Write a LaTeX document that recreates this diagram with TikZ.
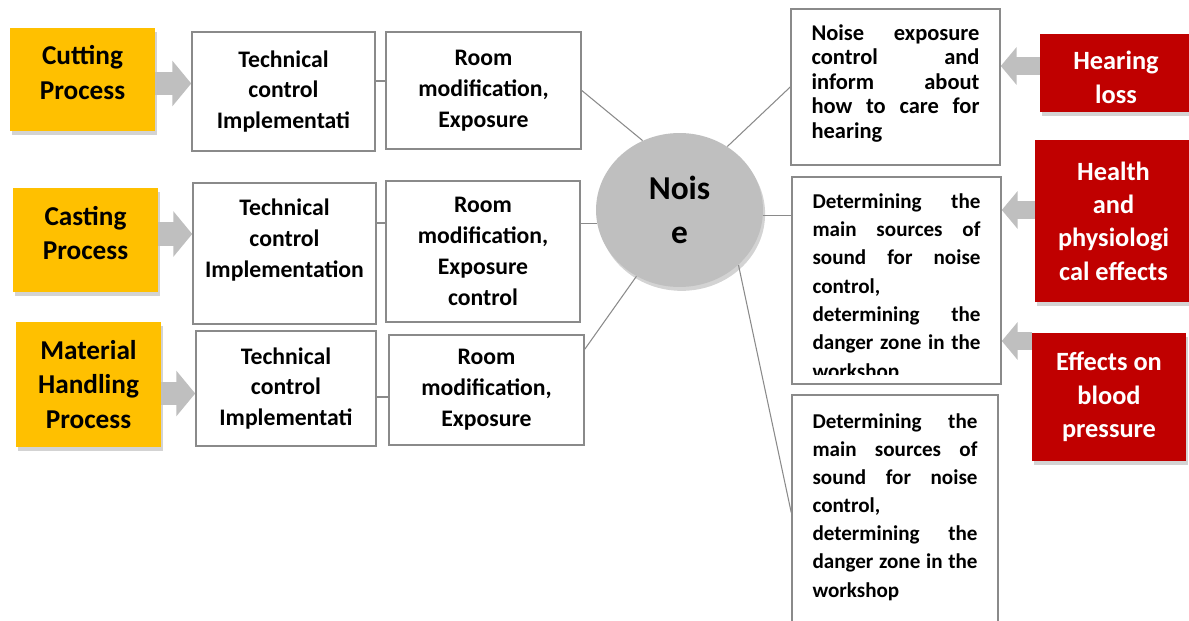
\documentclass[tikz,border=0pt]{standalone}
\usepackage{fontspec}
\setmainfont{Carlito}
\usetikzlibrary{shapes.geometric,arrows.meta,shadows,calc}
\definecolor{procyellow}{HTML}{FFC000}
\definecolor{effectred}{HTML}{C00000}
\definecolor{arrowgray}{HTML}{BFBFBF}
\definecolor{framegray}{HTML}{8A8A8A}
\begin{document}
\begin{tikzpicture}[x=0.02cm,y=-0.02cm,
	every node/.style={inner sep=0pt,font=\bfseries},
	dshadow/.style={drop shadow={opacity=0.35,shadow xshift=1.2pt,shadow yshift=-2.2pt}},
	proc/.style={fill=procyellow,dshadow,align=center,font=\fontsize{15.5}{19.5}\selectfont\bfseries},
	effect/.style={fill=effectred,dshadow,text=white,align=center,font=\fontsize{15}{19}\selectfont\bfseries},
	ctrl/.style={draw=framegray,line width=0.9pt,fill=white,align=center,font=\fontsize{13.5}{17.6}\selectfont\bfseries},
	sheet/.style={draw=framegray,line width=0.9pt,fill=white},
	notetext/.style={anchor=north,align=justify,text width=3.36cm,font=\fontsize{12}{16}\selectfont\bfseries},
	link/.style={draw=framegray,line width=0.6pt},
	bigarrow/.style={draw=arrowgray,line width=13.6pt,-{Triangle[length=10.8pt,width=25.5pt]}},
	smallarrow/.style={draw=arrowgray,line width=10.8pt,-{Triangle[length=9pt,width=21pt]}}]
	\useasboundingbox (0,0) rectangle (1189,621);
	\node[proc,text depth=8pt,minimum width=2.9cm,minimum height=2.06cm] (cut) at (82.5,79.5) {Cutting\\Process};
	\node[proc,text depth=8pt,minimum width=2.9cm,minimum height=2.08cm] (cast) at (85.5,240) {Casting\\Process};
	\node[proc,minimum width=2.9cm,minimum height=2.5cm] (mat) at (88.5,384.5) {Material\\Handling\\Process};
	\node[ctrl,minimum width=3.66cm,minimum height=2.38cm] (tech1) at (283.5,91.5) {Technical\\control\\Implementati};
	\node[ctrl,minimum width=3.9cm,minimum height=2.34cm] (room1) at (483.5,90.5) {Room\\modification,\\Exposure};
	\node[ctrl,minimum width=3.66cm,minimum height=2.82cm] (tech2) at (284.5,253.5) {Technical\\control\\Implementation\\\mbox{}};
	\node[ctrl,minimum width=3.88cm,minimum height=2.82cm] (room2) at (483,251.5) {Room\\modification,\\Exposure\\control};
	\node[ctrl,minimum width=3.6cm,minimum height=2.3cm] (tech3) at (286,388.5) {Technical\\control\\Implementati};
	\node[ctrl,minimum width=3.9cm,minimum height=2.2cm] (room3) at (486.5,390) {Room\\modification,\\Exposure};
	\node[ellipse,fill=arrowgray,dshadow,minimum width=3.34cm,minimum height=3.08cm,align=center,font=\fontsize{19}{25.5}\selectfont\bfseries] (noise) at (679.5,210) {Nois\\e};
	\node[sheet,minimum width=4.18cm,minimum height=3.12cm] (r1) at (895.5,87) {};
	\node[sheet,minimum width=4.18cm,minimum height=4.14cm] (r2) at (896.5,280.5) {};
	\node[sheet,minimum width=4.12cm,minimum height=4.7cm] (r3) at (895,512.5) {};
	\node[notetext,font=\fontsize{12.8}{13.9}\selectfont\bfseries] (r1txt) at ($(r1.north)+(0,16)$) {Noise exposure\linebreak control and\linebreak inform about\linebreak how to care for\linebreak hearing};
	\begin{scope}
		\clip (r2.north west) rectangle ($(r2.south east)+(0,-10)$);
		\node[notetext,font=\fontsize{12}{16.1}\selectfont\bfseries] (r2txt) at ($(r2.north)+(0,17)$) {Determining the\linebreak main sources of\linebreak sound for noise\linebreak control,\\determining the\linebreak danger zone in the\linebreak workshop};
	\end{scope}
	\node[notetext,text width=3.3cm] (r3txt) at ($(r3.north)+(0,19)$) {Determining the\linebreak main sources of\linebreak sound for noise\linebreak control,\\determining the\linebreak danger zone in the\linebreak workshop};
	\node[effect,text height=35.2pt,font=\fontsize{15}{19.3}\selectfont\bfseries,minimum width=3.04cm,minimum height=1.56cm] (hear) at (1116,73) {Hearing\\loss};
	\node[effect,minimum width=3.14cm,minimum height=3.24cm] (health) at (1113.5,221) {Health\\and\\physiologi\\cal effects};
	\node[effect,minimum width=3.08cm,minimum height=2.56cm] (effects) at (1109,397) {Effects on\\blood\\pressure};
	\draw[link] ($(tech1.east)+(0,-10.5)$) coordinate (c1) -- (c1 -| room1.west);
	\draw[link] ($(tech2.east)+(0,-30.5)$) coordinate (c2) -- (c2 -| room2.west);
	\draw[link] ($(tech3.east)+(0,8.5)$) coordinate (c3) -- (c3 -| room3.west);
	\draw[link] (room1.east) -- (noise.118);
	\draw[link] (noise.189) -- (noise.189 -| room2.east);
	\draw[link] ($(room3.north east)+(0,15)$) -- (noise.237);
	\draw[link] (noise.53) -- (r1.west);
	\draw[link] (noise.356) -- (noise.356 -| r2.west);
	\draw[link] (noise.317) -- (r3.west);
	\draw[bigarrow] ($(cut.east)+(0,4)$) coordinate (a1) -- (a1 -| tech1.west);
	\draw[bigarrow] ($(cast.east)+(0,-6)$) coordinate (a2) -- (a2 -| tech2.west);
	\draw[bigarrow] ($(mat.east)+(0,9)$) coordinate (a3) -- (a3 -| tech3.west);
	\draw[smallarrow] ($(hear.west)+(0,-7)$) coordinate (a4) -- (a4 -| r1.east);
	\draw[smallarrow] ($(health.west)+(0,-11)$) coordinate (a5) -- (a5 -| r2.east);
	\draw[smallarrow] ($(effects.west)+(0,-56)$) coordinate (a6) -- (a6 -| r2.east);
\end{tikzpicture}
\end{document}
